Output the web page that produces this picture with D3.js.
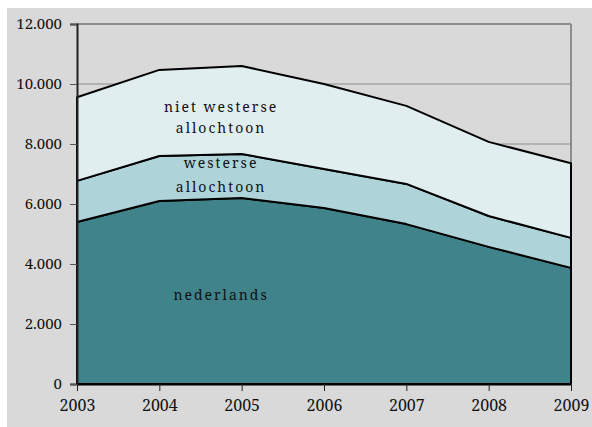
<!DOCTYPE html>
<html><head><meta charset="utf-8">
<script src="https://cdn.jsdelivr.net/npm/d3@7"></script>
<style>html,body{margin:0;padding:0;background:#fff;}svg{display:block;}</style>
</head><body>
<script>
const years = [2003, 2004, 2005, 2006, 2007, 2008, 2009];
const nederlands = [5400, 6100, 6200, 5870, 5330, 4570, 3870];
const westerse = [1370, 1500, 1470, 1300, 1340, 1030, 1000];
const nietWesterse = [2790, 2870, 2930, 2830, 2600, 2470, 2490];
const yTicks = [0, 2000, 4000, 6000, 8000, 10000, 12000];
const seriesNames = ["nederlands", "westerse", "nietWesterse"];

const W = 592, H = 427;
const m = {l: 77, t: 24, r: 21, b: 43};
const FONT = "Noto Serif";
const svg = d3.select("body").append("svg").attr("width", W).attr("height", H);
svg.append("rect").attr("x", 7).attr("y", 8).attr("width", W - 7).attr("height", H - 8).attr("fill", "#d9d9d9");

const x = d3.scalePoint().domain(years).range([m.l, W - m.r]);
const y = d3.scaleLinear().domain([0, 12000]).range([H - m.b, m.t]);

const rows = years.map((yr, i) => ({year: yr, nederlands: nederlands[i], westerse: westerse[i], nietWesterse: nietWesterse[i]}));
const stack = d3.stack().keys(seriesNames)(rows);
const colors = {nederlands: "#41838a", westerse: "#aed4d9", nietWesterse: "#e0eef0"};

// gridlines
svg.append("g").selectAll("line").data(yTicks.filter(d => d > 0)).join("line")
  .attr("x1", m.l).attr("x2", W - m.r).attr("y1", d => y(d)).attr("y2", d => y(d))
  .attr("stroke", "#8c8c8c").attr("stroke-width", d => d === 12000 ? 2 : 1);
// right border
svg.append("line").attr("x1", W - m.r).attr("x2", W - m.r).attr("y1", m.t).attr("y2", H - m.b)
  .attr("stroke", "#8c8c8c").attr("stroke-width", 2);

const area = d3.area().x(d => x(d.data.year)).y0(d => y(d[0])).y1(d => y(d[1]));
svg.append("g").selectAll("path").data(stack).join("path")
  .attr("d", area).attr("fill", d => colors[d.key])
  .attr("stroke", "#000").attr("stroke-width", 2).attr("stroke-linejoin", "round");

// axes
const yAxis = d3.axisLeft(y).tickValues(yTicks).tickSize(7).tickPadding(8)
  .tickFormat(d => d3.format(",")(d).replace(/,/g, "."));
const gy = svg.append("g").attr("transform", `translate(${m.l},0)`).call(yAxis);
gy.attr("font-family", null).attr("font-size", null);
gy.select(".domain").attr("stroke", "#222").attr("stroke-width", 2);
gy.selectAll(".tick line").attr("stroke", "#555");
gy.selectAll("text").style("font-family", FONT).style("font-size", "15px").attr("fill", "#111");

const xAxis = d3.axisBottom(x).tickSize(7).tickPadding(9).tickSizeOuter(0);
const gx = svg.append("g").attr("transform", `translate(0,${H - m.b})`).call(xAxis);
gx.attr("font-family", null).attr("font-size", null);
gx.select(".domain").attr("stroke", "#000").attr("stroke-width", 2);
gx.selectAll(".tick line").attr("stroke", "#222");
gx.selectAll("text").style("font-family", FONT).style("font-size", "16px").attr("fill", "#111");

// labels
const labels = [
  {t: "niet westerse", x: 2004.75, v: 9230},
  {t: "allochtoon", x: 2004.75, v: 8530},
  {t: "westerse", x: 2004.75, v: 7370},
  {t: "allochtoon", x: 2004.75, v: 6570},
  {t: "nederlands", x: 2004.75, v: 2970}
];
const xl = d3.scaleLinear().domain([2003, 2009]).range([m.l, W - m.r]);
svg.append("g").selectAll("text").data(labels).join("text")
  .attr("x", d => xl(d.x)).attr("y", d => y(d.v)).attr("text-anchor", "middle")
  .attr("dy", "0.35em")
  .style("font-family", FONT).style("font-size", "14px").style("letter-spacing", "2px")
  .attr("fill", "#111").text(d => d.t);
</script>
</body></html>
